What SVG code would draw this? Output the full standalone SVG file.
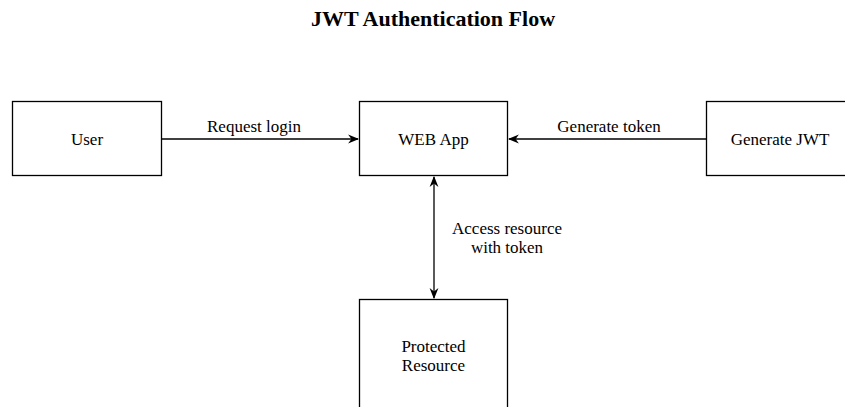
<svg xmlns="http://www.w3.org/2000/svg" width="845" height="407" viewBox="0 0 845 407">
  <defs>
    <marker id="arrow" viewBox="0 0 10 10" refX="9" refY="5" markerWidth="11" markerHeight="11" markerUnits="userSpaceOnUse" orient="auto-start-reverse">
      <path d="M0,1 L10,5 L0,9 L3,5 Z" fill="#000"/>
    </marker>
  </defs>
  <style>
    .box { fill: #fff; stroke: #000; stroke-width: 1.3; }
    .lbl { font-family: "Liberation Serif", "Times New Roman", serif; font-size: 17px; fill: #000; text-anchor: middle; }
    .title { font-family: "Liberation Serif", "Times New Roman", serif; font-size: 22px; font-weight: bold; fill: #000; text-anchor: middle; }
    .edge { fill: none; stroke: #000; stroke-width: 1.3; }
  </style>
  <rect width="845" height="407" fill="#fff"/>

  <text class="title" x="433" y="26">JWT Authentication Flow</text>

  <g id="user">
    <rect class="box" x="12.5" y="101.5" width="149" height="74"/>
    <text class="lbl" x="87" y="145">User</text>
  </g>
  <g id="web-app">
    <rect class="box" x="359.5" y="101.5" width="148" height="74"/>
    <text class="lbl" x="433.5" y="145">WEB App</text>
  </g>
  <g id="generate-jwt">
    <rect class="box" x="706.5" y="101.5" width="150" height="74"/>
    <text class="lbl" x="780" y="145">Generate JWT</text>
  </g>
  <g id="protected-resource">
    <rect class="box" x="359.5" y="299.5" width="148" height="120"/>
    <text class="lbl" x="433.5" y="352">Protected</text>
    <text class="lbl" x="433.5" y="371">Resource</text>
  </g>

  <g id="connectors">
    <path class="edge" d="M162,139 H358" marker-end="url(#arrow)"/>
    <text class="lbl" x="254" y="132">Request login</text>
    <path class="edge" d="M706,139 H509" marker-end="url(#arrow)"/>
    <text class="lbl" x="609" y="132">Generate token</text>
    <path class="edge" d="M434,177 V298" marker-start="url(#arrow)" marker-end="url(#arrow)"/>
    <text class="lbl" x="507" y="234">Access resource</text>
    <text class="lbl" x="507" y="253">with token</text>
  </g>
</svg>
